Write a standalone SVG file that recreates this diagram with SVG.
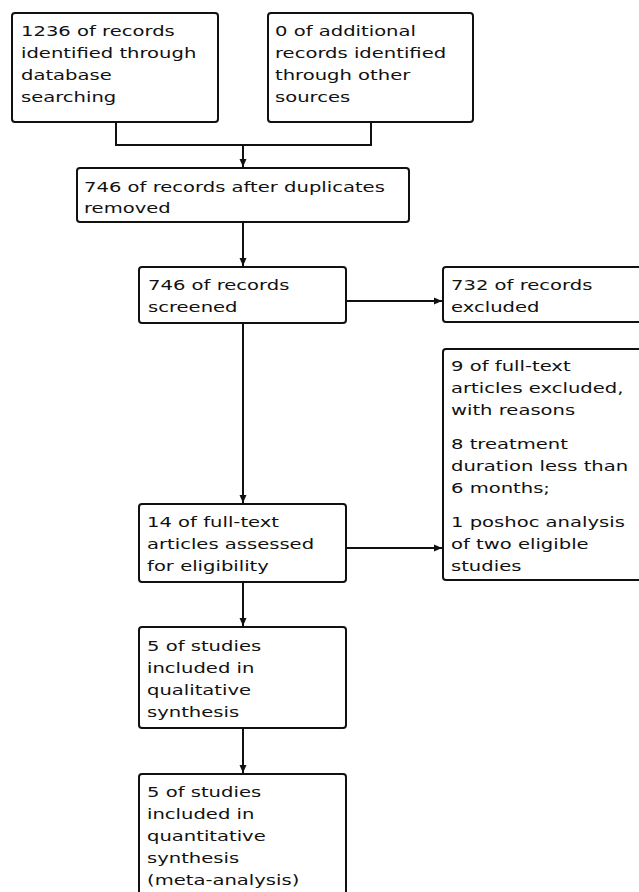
<svg xmlns="http://www.w3.org/2000/svg" width="639" height="892" viewBox="0 0 639 892">
<style>
.box{fill:#fff;stroke:#111;stroke-width:2}
.t{font-family:"DejaVu Sans",Verdana,sans-serif;font-size:14.5px;fill:#111}
.c{fill:none;stroke:#111;stroke-width:2}
</style>
<defs>
<marker id="ah" markerUnits="userSpaceOnUse" markerWidth="10" markerHeight="10" refX="8" refY="4" orient="auto">
<path d="M0,0.5 L8,4 L0,7.5 Z" fill="#111"/>
</marker>
</defs>
<rect width="639" height="892" fill="#fff"/>
<g id="connectors">
<path class="c" d="M116,122 V145 H371 V122"/>
<line class="c" x1="243" y1="145" x2="243" y2="167" marker-end="url(#ah)"/>
<line class="c" x1="243" y1="222" x2="243" y2="266" marker-end="url(#ah)"/>
<line class="c" x1="346" y1="301" x2="442" y2="301" marker-end="url(#ah)"/>
<line class="c" x1="243" y1="323" x2="243" y2="503" marker-end="url(#ah)"/>
<line class="c" x1="346" y1="548" x2="442" y2="548" marker-end="url(#ah)"/>
<line class="c" x1="243" y1="582" x2="243" y2="626" marker-end="url(#ah)"/>
<line class="c" x1="243" y1="728" x2="243" y2="773" marker-end="url(#ah)"/>
</g>
<g id="n1">
<rect class="box" x="12" y="13" width="206" height="109" rx="3"/>
<text class="t" transform="translate(21,0) scale(1.35,1)"><tspan x="0" y="36">1236 of records</tspan><tspan x="0" y="58">identified through</tspan><tspan x="0" y="80">database</tspan><tspan x="0" y="102">searching</tspan></text>
</g>
<g id="n2">
<rect class="box" x="268" y="13" width="205" height="109" rx="3"/>
<text class="t" transform="translate(275,0) scale(1.35,1)"><tspan x="0" y="36">0 of additional</tspan><tspan x="0" y="58">records identified</tspan><tspan x="0" y="80">through other</tspan><tspan x="0" y="102">sources</tspan></text>
</g>
<g id="n3">
<rect class="box" x="77" y="168" width="332" height="54" rx="3"/>
<text class="t" transform="translate(84,0) scale(1.35,1)"><tspan x="0" y="192">746 of records after duplicates</tspan><tspan x="0" y="213">removed</tspan></text>
</g>
<g id="n4">
<rect class="box" x="139" y="267" width="207" height="56" rx="3"/>
<text class="t" transform="translate(148,0) scale(1.35,1)"><tspan x="0" y="290">746 of records</tspan><tspan x="0" y="312">screened</tspan></text>
</g>
<g id="n5">
<rect class="box" x="443" y="267" width="200" height="55" rx="3"/>
<text class="t" transform="translate(451,0) scale(1.35,1)"><tspan x="0" y="290">732 of records</tspan><tspan x="0" y="312">excluded</tspan></text>
</g>
<g id="n6">
<rect class="box" x="443" y="349" width="200" height="231" rx="3"/>
<text class="t" transform="translate(451,0) scale(1.35,1)"><tspan x="0" y="371">9 of full-text</tspan><tspan x="0" y="393">articles excluded,</tspan><tspan x="0" y="415">with reasons</tspan><tspan x="0" y="449">8 treatment</tspan><tspan x="0" y="471">duration less than</tspan><tspan x="0" y="493">6 months;</tspan><tspan x="0" y="527">1 poshoc analysis</tspan><tspan x="0" y="549">of two eligible</tspan><tspan x="0" y="571">studies</tspan></text>
</g>
<g id="n7">
<rect class="box" x="139" y="504" width="207" height="78" rx="3"/>
<text class="t" transform="translate(147,0) scale(1.35,1)"><tspan x="0" y="527">14 of full-text</tspan><tspan x="0" y="549">articles assessed</tspan><tspan x="0" y="571">for eligibility</tspan></text>
</g>
<g id="n8">
<rect class="box" x="139" y="627" width="207" height="101" rx="3"/>
<text class="t" transform="translate(147,0) scale(1.35,1)"><tspan x="0" y="651">5 of studies</tspan><tspan x="0" y="673">included in</tspan><tspan x="0" y="695">qualitative</tspan><tspan x="0" y="717">synthesis</tspan></text>
</g>
<g id="n9">
<rect class="box" x="139" y="774" width="207" height="130" rx="3"/>
<text class="t" transform="translate(147,0) scale(1.35,1)"><tspan x="0" y="797">5 of studies</tspan><tspan x="0" y="819">included in</tspan><tspan x="0" y="841">quantitative</tspan><tspan x="0" y="863">synthesis</tspan><tspan x="0" y="885">(meta-analysis)</tspan></text>
</g>
</svg>
